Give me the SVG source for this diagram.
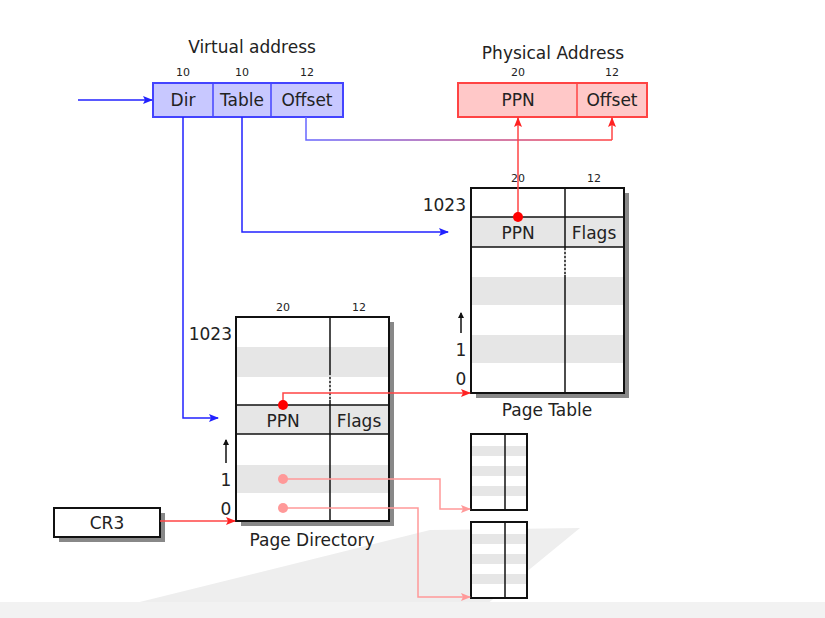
<svg xmlns="http://www.w3.org/2000/svg" width="825" height="618" viewBox="0 0 825 618">
<defs>
<style>
text{font-family:"DejaVu Sans","Liberation Sans",sans-serif;fill:#222}
.lbl{font-size:17px;text-anchor:middle}
.sm{font-size:11px;text-anchor:middle}
.tbl{fill:#fff;stroke:#111;stroke-width:2}
.ln{stroke:#111;stroke-width:1.5;fill:none}
.g{fill:#e6e6e6}
.sh{fill:#888}
</style>
<marker id="ab" markerWidth="10" markerHeight="10" refX="9" refY="5" orient="auto" markerUnits="userSpaceOnUse" viewBox="0 0 10 10"><path d="M0,1 L10,5 L0,9 L2,5z" fill="#22f"/></marker>
<marker id="ar" markerWidth="10" markerHeight="10" refX="9" refY="5" orient="auto" markerUnits="userSpaceOnUse" viewBox="0 0 10 10"><path d="M0,1 L10,5 L0,9 L2,5z" fill="#f22"/></marker>
<marker id="ap" markerWidth="10" markerHeight="10" refX="9" refY="5" orient="auto" markerUnits="userSpaceOnUse" viewBox="0 0 10 10"><path d="M0,1 L10,5 L0,9 L2,5z" fill="#f99"/></marker>
<marker id="ak" markerWidth="6" markerHeight="8" refX="3" refY="1" orient="0" markerUnits="userSpaceOnUse" viewBox="0 0 6 8"><path d="M0,6 L3,0 L6,6z" fill="#111"/></marker>
<linearGradient id="bg" x1="0" x2="1" y1="0" y2="0"><stop offset="0" stop-color="#66f"/><stop offset="1" stop-color="#f44"/></linearGradient>
</defs>
<rect width="825" height="618" fill="#fff"/>
<polygon points="75,618 430,530 580,528 470,618" fill="#eee"/>
<rect x="0" y="602" width="825" height="16" fill="#f2f2f2"/>

<g id="virtual">
<text x="252" y="53" class="lbl">Virtual address</text>
<text x="183" y="76" class="sm">10</text><text x="242" y="76" class="sm">10</text><text x="307" y="76" class="sm">12</text>
<rect x="153" y="83" width="190" height="34" fill="#c8c8ff" stroke="#44f" stroke-width="2"/>
<line x1="213" y1="83" x2="213" y2="117" stroke="#44f" stroke-width="1.5"/>
<line x1="271" y1="83" x2="271" y2="117" stroke="#44f" stroke-width="1.5"/>
<text x="183" y="106" class="lbl">Dir</text><text x="242" y="106" class="lbl">Table</text><text x="307" y="106" class="lbl">Offset</text>
</g>

<g id="physical">
<text x="553" y="59" class="lbl">Physical Address</text>
<text x="518" y="76" class="sm">20</text><text x="612" y="76" class="sm">12</text>
<rect x="458" y="83" width="189" height="34" fill="#ffc8c8" stroke="#f44" stroke-width="2"/>
<line x1="577" y1="83" x2="577" y2="117" stroke="#f44" stroke-width="1.5"/>
<text x="518" y="106" class="lbl">PPN</text><text x="612" y="106" class="lbl">Offset</text>
</g>

<g id="pagetable">
<rect x="476" y="193" width="153" height="205" class="sh"/>
<rect x="471" y="188" width="153" height="205" class="tbl"/>
<rect x="472" y="217" width="151" height="30" class="g"/>
<rect x="472" y="277" width="151" height="28" class="g"/>
<rect x="472" y="335" width="151" height="28" class="g"/>
<line x1="565" y1="188" x2="565" y2="393" class="ln"/>
<line x1="471" y1="217" x2="624" y2="217" class="ln"/>
<line x1="471" y1="247" x2="624" y2="247" class="ln"/>
<line x1="565" y1="250" x2="565" y2="275" stroke="#fff" stroke-width="1.5" stroke-dasharray="2,2"/>
<rect x="471" y="188" width="153" height="205" fill="none" stroke="#111" stroke-width="2"/>
<text x="518" y="182" class="sm">20</text><text x="594" y="182" class="sm">12</text>
<text x="518" y="239" class="lbl">PPN</text><text x="594" y="239" class="lbl">Flags</text>
<text x="466" y="211" class="lbl" text-anchor="end" style="text-anchor:end">1023</text>
<text x="461" y="356" class="lbl">1</text><text x="461" y="385" class="lbl">0</text>
<line x1="461" y1="333" x2="461" y2="313" stroke="#111" stroke-width="1.5" marker-end="url(#ak)"/>
<text x="547" y="416" class="lbl">Page Table</text>
</g>

<g id="pagedirectory">
<rect x="241" y="322" width="153" height="204" class="sh"/>
<rect x="236" y="317" width="153" height="204" class="tbl"/>
<rect x="237" y="347" width="151" height="30" class="g"/>
<rect x="237" y="405" width="151" height="29" class="g"/>
<rect x="237" y="465" width="151" height="28" class="g"/>
<line x1="330" y1="317" x2="330" y2="521" class="ln"/>
<line x1="236" y1="405" x2="389" y2="405" class="ln"/>
<line x1="236" y1="434" x2="389" y2="434" class="ln"/>
<line x1="330" y1="375" x2="330" y2="400" stroke="#fff" stroke-width="1.5" stroke-dasharray="2,2"/>
<rect x="236" y="317" width="153" height="204" fill="none" stroke="#111" stroke-width="2"/>
<text x="283" y="311" class="sm">20</text><text x="359" y="311" class="sm">12</text>
<text x="283" y="427" class="lbl">PPN</text><text x="359" y="427" class="lbl">Flags</text>
<text x="232" y="340" class="lbl" style="text-anchor:end">1023</text>
<text x="226" y="486" class="lbl">1</text><text x="226" y="515" class="lbl">0</text>
<line x1="226" y1="463" x2="226" y2="440" stroke="#111" stroke-width="1.5" marker-end="url(#ak)"/>
<text x="312" y="546" class="lbl">Page Directory</text>
</g>

<g id="smalltable1">
<rect x="471" y="434" width="56" height="76" fill="#fff" stroke="#111" stroke-width="2"/>
<rect x="472" y="446" width="54" height="10" class="g"/><rect x="472" y="466" width="54" height="10" class="g"/><rect x="472" y="486" width="54" height="10" class="g"/>
<line x1="505" y1="434" x2="505" y2="510" class="ln"/>
<rect x="471" y="434" width="56" height="76" fill="none" stroke="#111" stroke-width="2"/>
</g>
<g id="smalltable2">
<rect x="471" y="522" width="56" height="76" fill="#fff" stroke="#111" stroke-width="2"/>
<rect x="472" y="534" width="54" height="10" class="g"/><rect x="472" y="554" width="54" height="10" class="g"/><rect x="472" y="574" width="54" height="10" class="g"/>
<line x1="505" y1="522" x2="505" y2="598" class="ln"/>
<rect x="471" y="522" width="56" height="76" fill="none" stroke="#111" stroke-width="2"/>
</g>

<g id="cr3">
<rect x="59" y="513" width="106" height="29" class="sh"/>
<rect x="54" y="508" width="106" height="29" fill="#fff" stroke="#111" stroke-width="2"/>
<text x="107" y="529" class="lbl">CR3</text>
</g>

<g id="connectors" fill="none" stroke-width="1.5">
<line x1="78" y1="100" x2="152" y2="100" stroke="#22f" marker-end="url(#ab)"/>
<polyline points="183,117 183,418 218,418" stroke="#22f" marker-end="url(#ab)"/>
<polyline points="242,117 242,232 448,232" stroke="#22f" marker-end="url(#ab)"/>
<polyline points="306,117 306,140 612,140" stroke="url(#bg)"/>
<line x1="612" y1="140" x2="612" y2="118" stroke="#f44" marker-end="url(#ar)"/>
<line x1="518" y1="217" x2="518" y2="118" stroke="#f44" marker-end="url(#ar)"/>
<circle cx="518" cy="217" r="5" fill="#f00"/>
<polyline points="283,405 283,393 470,393" stroke="#f44" marker-end="url(#ar)"/>
<circle cx="283" cy="405" r="5" fill="#f00"/>
<line x1="160" y1="521" x2="235" y2="521" stroke="#f44" marker-end="url(#ar)"/>
<polyline points="283,479 440,479 440,509 470,509" stroke="#f99" marker-end="url(#ap)"/>
<circle cx="283" cy="479" r="5" fill="#f99"/>
<polyline points="283,508 418,508 418,597 470,597" stroke="#f99" marker-end="url(#ap)"/>
<circle cx="283" cy="508" r="5" fill="#f99"/>
</g>
</svg>
